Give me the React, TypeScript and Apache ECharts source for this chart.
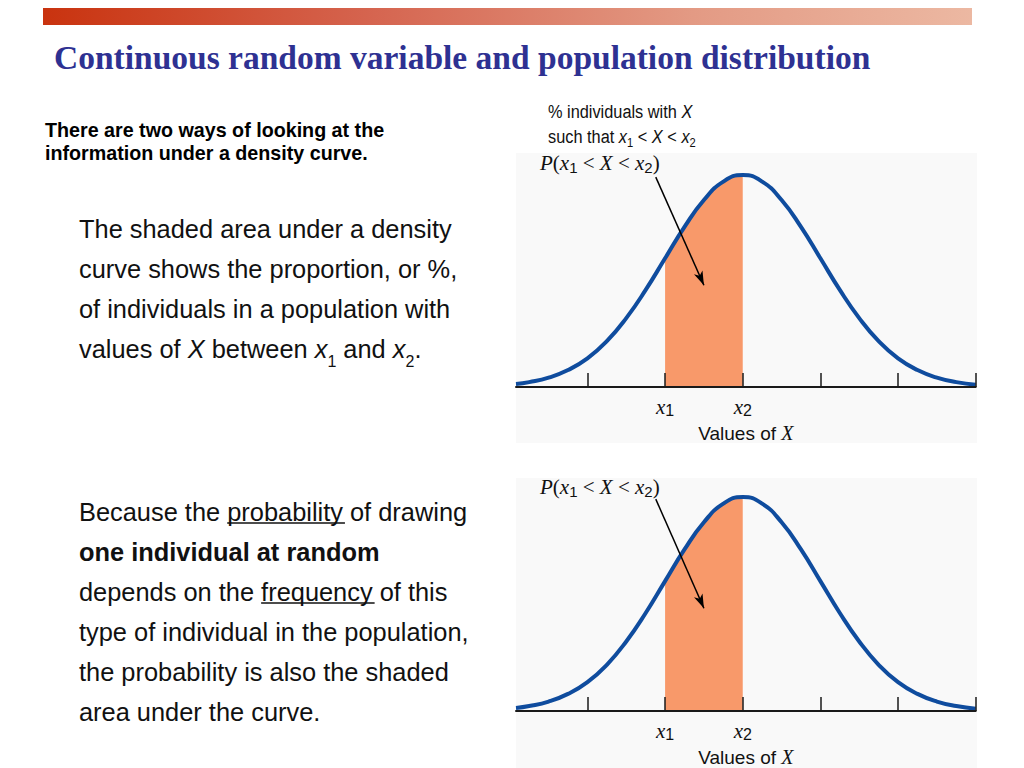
import React, { useEffect, useRef } from "react";
import * as echarts from "echarts";

// Values of X, in standard-deviation units from the mean (tick spacing = 1)
const zValues = [
  -2.92, -2.75, -2.5, -2.25, -2, -1.75, -1.5, -1.25, -1, -0.75, -0.5, -0.25, 0,
  0.25, 0.5, 0.75, 1, 1.25, 1.5, 1.75, 2, 2.25, 2.5, 2.75, 3,
];
// Relative curve height (peak = 1)
const densityValues = [
  0.014, 0.023, 0.044, 0.08, 0.135, 0.216, 0.325, 0.458, 0.607, 0.755, 0.882,
  0.969, 1, 0.969, 0.882, 0.755, 0.607, 0.458, 0.325, 0.216, 0.135, 0.08,
  0.044, 0.023, 0.011,
];
const tickValues = [-2, -1, 0, 1, 2, 3];
const boundValues = [-1, 0]; // x1, x2
const boundSubscripts = ["1", "2"];
const arrowStart = [-1.12, 0.99];
const arrowEnd = [-0.5, 0.48];

const titleText = "Continuous random variable and population distribution";
const headingText =
  "There are two ways of looking at the\ninformation under a density curve.";
const para1Text =
  "The shaded area under a density\ncurve shows the proportion, or %,\nof individuals in a population with\nvalues of {i|X} between {i|x}{s|1} and {i|x}{s|2}.";
const para2Lines = [
  "Because the probability of drawing",
  "{b|one individual at random}",
  "depends on the frequency of this",
  "type of individual in the population,",
  "the probability is also the shaded",
  "area under the curve.",
];
// underlined words: [line index, prefix before word, word]
const underlined: [number, string, string][] = [
  [0, "Because the ", "probability"],
  [2, "depends on the ", "frequency"],
];
const noteText = "% individuals with {i|X}\nsuch that {i|x}{s|1} < {i|X} < {i|x}{s|2}";
const probText = "{p|P}{n|(}{p|x}{s|1}{n| < }{p|X}{n| < }{p|x}{s|2}{n|)}";

const SANS = "'Liberation Sans', Arial, Helvetica, sans-serif";
const SERIF = "'Liberation Serif', 'Times New Roman', serif";
const CURVE = "#0f4c9e";
const ORANGE = "#f8996a";
const BODY_SIZE = 25.4;
const BODY_LH = 40;

function measure(text: string, font: string): number {
  const c = document.createElement("canvas").getContext("2d");
  if (!c) return text.length * 12;
  c.font = font;
  return c.measureText(text).width;
}

export default function App() {
  const ref = useRef<HTMLDivElement>(null);

  useEffect(() => {
    if (!ref.current) return;
    const chart = echarts.init(ref.current, undefined, { renderer: "svg" });

    const curve = zValues.map((z, i) => [z, densityValues[i]]);
    const shaded = curve.filter(
      (p) => p[0] >= boundValues[0] - 1e-9 && p[0] <= boundValues[1] + 1e-9
    );

    const grids = [
      { left: 516, right: 48.3, top: 175, bottom: 381 },
      { left: 516, right: 48.3, top: 497, bottom: 56 },
    ];

    const xAxes = grids.map((_, gi) => ({
      type: "value",
      gridIndex: gi,
      min: zValues[0],
      max: zValues[zValues.length - 1],
      z: 5,
      axisLine: { show: true, onZero: false, lineStyle: { color: "#1a1a1a", width: 2 } },
      axisTick: {
        show: true,
        inside: true,
        length: 14,
        customValues: tickValues,
        lineStyle: { color: "#1a1a1a", width: 1.5 },
      },
      axisLabel: {
        show: true,
        customValues: boundValues,
        margin: 9,
        formatter: (v: number) => {
          const k = boundValues.indexOf(v);
          return k >= 0 ? `{i|x}{s|${boundSubscripts[k]}}` : "";
        },
        rich: {
          i: { fontFamily: SERIF, fontStyle: "italic", fontSize: 21, lineHeight: 22, color: "#111", verticalAlign: "middle" },
          s: { fontFamily: SANS, fontSize: 16, lineHeight: 14, color: "#111", verticalAlign: "bottom" },
        },
      },
      splitLine: { show: false },
      name: "{a|Values of }{b|X}",
      nameLocation: "middle",
      nameGap: 35,
      nameTextStyle: {
        rich: {
          a: { fontFamily: SANS, fontSize: 19, color: "#111", lineHeight: 22 },
          b: { fontFamily: SERIF, fontStyle: "italic", fontSize: 20, color: "#111", lineHeight: 22 },
        },
      },
    }));

    const yAxes = grids.map((_, gi) => ({
      type: "value",
      gridIndex: gi,
      min: 0,
      max: 1,
      show: false,
    }));

    const series: any[] = [];
    grids.forEach((_, gi) => {
      series.push({
        type: "line",
        xAxisIndex: gi,
        yAxisIndex: gi,
        data: shaded,
        symbol: "none",
        smooth: true,
        clip: false,
        lineStyle: { width: 0 },
        areaStyle: { color: ORANGE, opacity: 1 },
        z: 1,
        silent: true,
      });
      series.push({
        type: "line",
        xAxisIndex: gi,
        yAxisIndex: gi,
        data: curve,
        symbol: "none",
        smooth: true,
        clip: false,
        lineStyle: { color: CURVE, width: 4 },
        z: 3,
        silent: true,
        markLine: {
          silent: true,
          symbol: ["none", "arrow"],
          symbolSize: [7, 14],
          label: { show: false },
          lineStyle: { color: "#000", width: 1.5, type: "solid" },
          data: [[{ coord: arrowStart }, { coord: arrowEnd }]],
        },
      });
    });

    const probRich = {
      p: { fontFamily: SERIF, fontStyle: "italic", fontSize: 21, lineHeight: 24, fill: "#111" },
      n: { fontFamily: SERIF, fontSize: 21, lineHeight: 24, fill: "#111" },
      s: { fontFamily: SANS, fontSize: 15, lineHeight: 16, fill: "#111", verticalAlign: "bottom" },
    };

    const para2Top = 492;
    const bodyFont = `${BODY_SIZE}px ${SANS}`;
    const underlineLines = underlined.map(([li, prefix, word]) => {
      const x0 = 79 + measure(prefix, bodyFont);
      const w = measure(word, bodyFont);
      const y = para2Top + li * BODY_LH + BODY_LH / 2 + 11;
      return {
        type: "line",
        shape: { x1: x0, y1: y, x2: x0 + w + 2, y2: y },
        style: { stroke: "#111", lineWidth: 1.5 },
      };
    });

    const graphic: any[] = [
      {
        type: "rect",
        shape: { x: 43, y: 8, width: 929, height: 17 },
        style: {
          fill: new echarts.graphic.LinearGradient(0, 0, 1, 0, [
            { offset: 0, color: "#c9330f" },
            { offset: 0.35, color: "#d5644f" },
            { offset: 0.7, color: "#e39a84" },
            { offset: 1, color: "#ecb8a2" },
          ]),
        },
        z: -10,
      },
      {
        type: "text",
        x: 54,
        y: 57,
        style: {
          text: titleText,
          font: `bold 33.5px ${SERIF}`,
          fill: "#2e3192",
          verticalAlign: "middle",
        },
      },
      {
        type: "rect",
        shape: { x: 516, y: 153, width: 461, height: 290 },
        style: { fill: "#f9f9f9" },
        z: -10,
      },
      {
        type: "rect",
        shape: { x: 516, y: 478, width: 461, height: 290 },
        style: { fill: "#f9f9f9" },
        z: -10,
      },
      {
        type: "text",
        x: 45,
        y: 118,
        style: {
          text: headingText,
          font: `bold 19.7px ${SANS}`,
          lineHeight: 23,
          fill: "#000",
          verticalAlign: "top",
        },
      },
      {
        type: "text",
        x: 79,
        y: 209,
        style: {
          text: para1Text,
          fontFamily: SANS,
          fontSize: BODY_SIZE,
          lineHeight: BODY_LH,
          fill: "#111",
          verticalAlign: "top",
          rich: {
            i: { fontFamily: SANS, fontStyle: "italic", fontSize: BODY_SIZE, lineHeight: BODY_LH, fill: "#111" },
            s: { fontFamily: SANS, fontSize: 16, lineHeight: 32, fill: "#111", verticalAlign: "bottom" },
          },
        },
      },
      {
        type: "text",
        x: 79,
        y: para2Top,
        style: {
          text: para2Lines.join("\n"),
          fontFamily: SANS,
          fontSize: BODY_SIZE,
          lineHeight: BODY_LH,
          fill: "#111",
          verticalAlign: "top",
          rich: {
            b: { fontFamily: SANS, fontWeight: "bold", fontSize: BODY_SIZE, lineHeight: BODY_LH, fill: "#111" },
          },
        },
      },
      ...underlineLines,
      {
        type: "text",
        x: 548,
        y: 99,
        scaleX: 0.86,
        style: {
          text: noteText,
          fontFamily: SANS,
          fontSize: 19,
          lineHeight: 25,
          fill: "#111",
          verticalAlign: "top",
          rich: {
            i: { fontFamily: SANS, fontStyle: "italic", fontSize: 19, lineHeight: 25, fill: "#111" },
            s: { fontFamily: SANS, fontSize: 13, lineHeight: 17, fill: "#111", verticalAlign: "bottom" },
          },
        },
      },
      {
        type: "text",
        x: 540,
        y: 163,
        style: { text: probText, verticalAlign: "middle", rich: probRich },
      },
      {
        type: "text",
        x: 540,
        y: 487,
        style: { text: probText, verticalAlign: "middle", rich: probRich },
      },
    ];

    chart.setOption({
      animation: false,
      backgroundColor: "#ffffff",
      grid: grids,
      xAxis: xAxes,
      yAxis: yAxes,
      series,
      graphic,
    });

    return () => chart.dispose();
  }, []);

  return (
    <div
      ref={ref}
      style={{ position: "absolute", left: 0, top: 0, width: 1024, height: 768 }}
    />
  );
}
